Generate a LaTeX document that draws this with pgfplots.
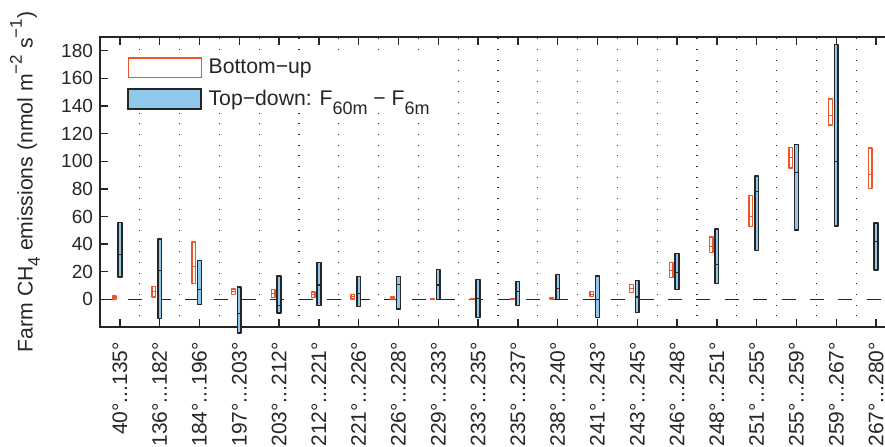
\documentclass[border=0pt]{standalone}
\usepackage{pgfplots}
\pgfplotsset{compat=1.18}
\usepgfplotslibrary{statistics}
\usepackage{fontspec}
\setmainfont{Liberation Sans}
\definecolor{buorange}{RGB}{240,85,40}
\definecolor{tdblue}{RGB}{143,200,235}
\definecolor{darkline}{RGB}{38,38,38}
\newcommand\dd{.\kern0pt.\kern0pt.}
\pgfplotsset{
  bubox/.style={forget plot, draw=buorange, line width=0.65pt, fill=white, line join=round,
    boxplot/draw direction=y,
    boxplot/box extend=0.09, boxplot/whisker extend=0,
    boxplot/every median/.style={draw=buorange, line width=0.55pt}},
  tdbox/.style={forget plot, draw=darkline, line width=0.72pt, fill=tdblue, line join=round,
    boxplot/draw direction=y,
    boxplot/box extend=0.095, boxplot/whisker extend=0,
    boxplot/every median/.style={draw=darkline, line width=0.55pt}},
}
% bottom-up: position, low, median, high
\newcommand\bu[4]{\addplot[bubox, boxplot prepared={draw position=#1-0.145,
  lower whisker=#2, lower quartile=#2, median=#3, upper quartile=#4, upper whisker=#4}] coordinates {};}
% top-down: position, low, median, high
\newcommand\td[4]{\addplot[tdbox, boxplot prepared={draw position=#1,
  lower whisker=#2, lower quartile=#2, median=#3, upper quartile=#4, upper whisker=#4}] coordinates {};}
\begin{document}
\begin{tikzpicture}
\begin{axis}[
  name=ax, scale only axis, width=396pt, height=145pt,
  xmin=-0.5, xmax=19.4, ymin=-20, ymax=190,
  clip=false,
  xtick={0,...,19},
  xticklabels={40°\dd135°,136°\dd182°,184°\dd196°,197°\dd203°,203°\dd212°,212°\dd221°,221°\dd226°,226°\dd228°,229°\dd233°,233°\dd235°,235°\dd237°,238°\dd240°,241°\dd243°,243°\dd245°,246°\dd248°,248°\dd251°,251°\dd255°,255°\dd259°,259°\dd267°,267°\dd280°},
  minor xtick={0.5,1.5,...,18.5},
  xminorgrids,
  minor grid style={draw=darkline, line width=0.6pt, dash pattern=on 0.5pt off 4.83pt},
  ytick={0,20,...,180},
  ytick pos=left,
  tick align=inside,
  major tick length=4pt, minor tick length=0pt,
  axis line style={line width=0.85pt, draw=darkline},
  major tick style={line width=0.65pt, draw=darkline},
  xticklabel style={rotate=90, anchor=east, font=\fontsize{10.5}{12}\selectfont, text=darkline},
  xticklabel shift=4pt,
  yticklabel style={font=\fontsize{9.5}{11}\selectfont, text=darkline},
  /pgf/number format/assume math mode=true,
  ylabel={Farm CH\raisebox{-0.35em}{\fontsize{8.5}{9}\selectfont 4} emissions (nmol m\raisebox{0.5em}{\fontsize{8.5}{9}\selectfont −2} s\raisebox{0.5em}{\fontsize{8.5}{9}\selectfont −1})},
  ylabel style={at={(axis description cs:-0.0947,0.5)}, anchor=center, font=\fontsize{10.6}{12}\selectfont, text=darkline},
  legend style={at={(axis description cs:0.034,0.931)}, anchor=north west, draw=none, fill=white,
    inner sep=0pt, row sep=5pt, font=\fontsize{10.6}{12}\selectfont, text=darkline,
    nodes={inner sep=0pt}},
  legend cell align=left,
]
\addlegendimage{legend image code/.code={\draw[draw=buorange, line width=0.7pt, fill=white] (0pt,-4.875pt) rectangle (36.5pt,4.875pt); \path (40pt,0pt);}}
\addlegendentry{Bottom−up}
\addlegendimage{legend image code/.code={\draw[draw=darkline, line width=0.9pt, fill=tdblue] (0pt,-4.875pt) rectangle (36.5pt,4.875pt); \path (40pt,0pt);}}
\addlegendentry{Top−down: F\raisebox{-0.45em}{\fontsize{9}{10}\selectfont 60m} − F\raisebox{-0.45em}{\fontsize{9}{10}\selectfont 6m}}

\addplot[forget plot, darkline, line width=0.55pt, dash pattern=on 7pt off 7.2pt] coordinates {(-0.5,0) (19.4,0)};

\bu{0}{0.3}{1.4}{2.5}
\bu{1}{1.7}{5.8}{9.4}
\bu{2}{11.4}{23.5}{41.6}
\bu{3}{3.6}{5.5}{7.5}
\bu{4}{1.2}{4.1}{7.0}
\bu{5}{1.5}{3.4}{5.3}
\bu{6}{0.3}{2.0}{3.6}
\bu{7}{0.0}{0.8}{1.7}
\bu{8}{0.0}{0.2}{0.4}
\bu{9}{0.0}{0.3}{0.7}
\bu{10}{0.0}{0.4}{0.8}
\bu{11}{0.2}{0.6}{1.2}
\bu{12}{2.0}{3.8}{5.6}
\bu{13}{5.1}{7.7}{10.6}
\bu{14}{15.7}{20.8}{26.6}
\bu{15}{33.9}{38.0}{45.2}
\bu{16}{53.0}{60.2}{75.3}
\bu{17}{95.1}{102.6}{109.8}
\bu{18}{126.3}{133.0}{145.1}
\bu{19}{80.3}{90.5}{109.6}

\td{0}{16.2}{32.7}{55.7}
\td{1}{-13.8}{21.0}{43.8}
\td{2}{-3.9}{7.0}{28.1}
\td{3}{-24.5}{-10.4}{8.9}
\td{4}{-9.9}{-4.6}{16.9}
\td{5}{-4.6}{10.4}{26.6}
\td{6}{-5.1}{4.1}{16.5}
\td{7}{-7.0}{10.6}{16.7}
\td{8}{0.0}{10.4}{21.5}
\td{9}{-13.1}{0.5}{14.3}
\td{10}{-4.6}{6.0}{12.8}
\td{11}{0.0}{7.7}{17.9}
\td{12}{-13.1}{0.0}{16.9}
\td{13}{-9.4}{1.7}{13.5}
\td{14}{7.3}{19.6}{33.2}
\td{15}{11.6}{25.4}{51.0}
\td{16}{35.3}{77.9}{89.3}
\td{17}{50.1}{91.7}{112.0}
\td{18}{53.2}{100.1}{184.5}
\td{19}{21.3}{41.6}{55.4}
\end{axis}
\pgfresetboundingbox
\path[use as bounding box] ([shift={(-50pt,-59.5pt)}]ax.south west) rectangle ([shift={(392.5pt,163.5pt)}]ax.south west);
\end{tikzpicture}
\end{document}
